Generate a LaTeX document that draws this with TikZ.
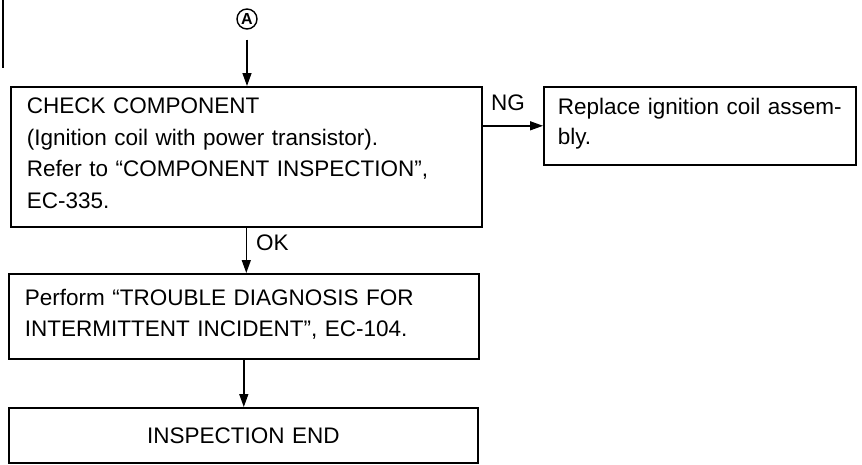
\documentclass[tikz,border=0pt]{standalone}
\usepackage{fontspec}
\setmainfont{Liberation Sans}
\usetikzlibrary{arrows.meta}
\begin{document}
\begin{tikzpicture}[x=1pt,y=-1pt,
  box/.style={draw, line width=1.6pt, rectangle, inner xsep=16pt, inner ysep=0pt,
    anchor=north west, align=left, font=\fontsize{22.5}{31.5}\selectfont},
  arr/.style={line width=1.4pt, -{Triangle[length=13pt,width=9pt]}},
  lbl/.style={font=\fontsize{22.5}{27}\selectfont, inner sep=0pt},
  circ/.style={circle, draw, line width=1.4pt, minimum size=20pt, inner sep=0pt,
    font=\fontsize{16}{16}\selectfont\bfseries}
]
\useasboundingbox (0,0) rectangle (862,464);

% scan edge fragment
\draw[line width=1.5pt] (3,0) -- (3,68);

\node[circ] (A) at (247,19) {A};

\node[box, text width=439pt, minimum height=140pt] (b1) at (10,86)
  {CHECK COMPONENT\\(Ignition coil with power transistor).\\Refer to “COMPONENT INSPECTION”,\\EC-335.\rule[-7pt]{0pt}{7pt}};

\node[box, inner xsep=14pt, text width=284pt, minimum height=78pt,
  font=\fontsize{22.5}{29.5}\selectfont] (b2) at (543,86)
  {Replace ignition coil assem-\\bly.\rule[-9.3pt]{0pt}{9.3pt}};

\node[box, text width=438pt, minimum height=85pt,
  font=\fontsize{22.5}{31}\selectfont] (b3) at (8,273)
  {Perform “TROUBLE DIAGNOSIS FOR\\INTERMITTENT INCIDENT”, EC-104.\rule[-6.5pt]{0pt}{6.5pt}};

\node[box, text width=437pt, minimum height=55pt, align=center] (b4) at (8,407)
  {INSPECTION END};

\node[lbl, anchor=base west] (ng) at (491,110) {NG};
\node[lbl, anchor=base west] (ok) at (256,250) {OK};

\draw[arr, shorten <=10pt] (A.south) -- (A.south |- b1.north);
\draw[arr] (b1.east |- b2.west) -- (b2.west);
\draw[arr] (b1.south) -- (b1.south |- b3.north);
\draw[arr] (b3.south) -- (b3.south |- b4.north);
\end{tikzpicture}
\end{document}
